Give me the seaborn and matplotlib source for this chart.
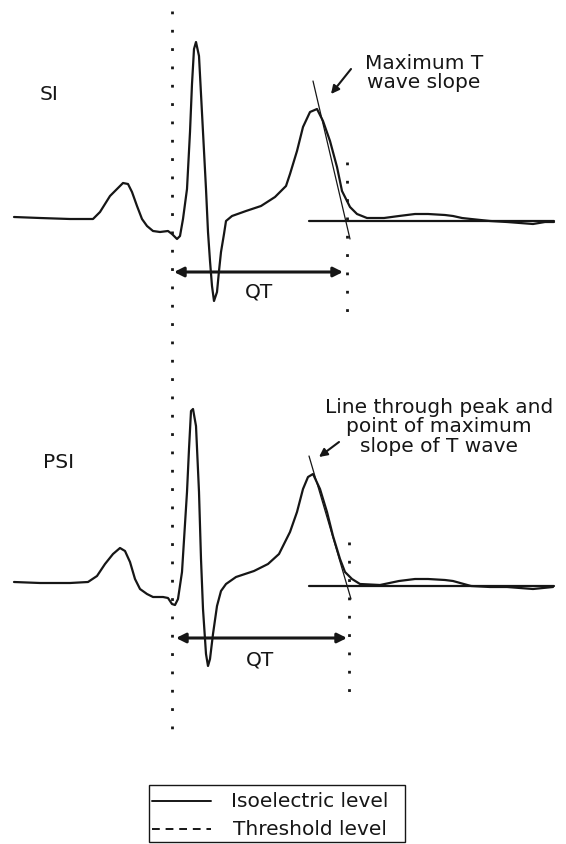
import numpy as np
import pandas as pd
import seaborn as sns
import matplotlib
matplotlib.use("Agg")
import matplotlib.pyplot as plt
from matplotlib.patches import Rectangle

# ---- data (pixel-space coordinates, y downwards) ----
si_x = [14, 40, 70, 93, 100, 105, 110, 117, 123, 128, 132, 137, 142, 147, 153, 160, 168,
        172, 177, 180, 183, 187, 190, 192, 194, 196, 199, 201, 203, 206, 208, 210, 212, 214,
        217, 219, 221, 224, 226, 232, 246, 261, 275, 286, 290, 297, 303, 310, 317, 323,
        330, 337, 342, 345, 350, 357, 367, 384, 399, 415, 428, 445, 453, 462, 471, 490,
        507, 520, 533, 545, 554]
si_y = [218, 219, 220, 220, 213, 205, 197, 190, 184, 185, 193, 207, 220, 227, 232, 233, 232,
        235, 240, 237, 220, 190, 133, 85, 50, 43, 57, 95, 133, 190, 233, 262, 287, 302,
        293, 272, 253, 235, 222, 217, 212, 207, 198, 187, 175, 152, 128, 113, 110, 122,
        142, 168, 192, 198, 208, 215, 219, 219, 217, 215, 215, 216, 217, 219, 220, 222,
        223, 224, 225, 223, 223]

psi_x = [14, 40, 70, 88, 97, 105, 113, 120, 125, 130, 135, 140, 147, 153, 163, 168,
         172, 175, 178, 182, 187, 189, 191, 193, 196, 199, 201, 203, 206, 208, 210, 213,
         217, 221, 226, 236, 254, 268, 279, 290, 297, 303, 308, 313, 320, 327, 333, 340,
         345, 352, 360, 380, 399, 415, 428, 445, 453, 471, 490, 507, 520, 533, 553]
psi_y = [583, 584, 584, 583, 577, 565, 555, 549, 552, 563, 580, 590, 595, 598, 598, 599,
         605, 606, 600, 573, 493, 450, 412, 410, 427, 493, 560, 610, 655, 667, 660, 635,
         607, 592, 585, 578, 572, 565, 555, 533, 513, 490, 478, 475, 490, 513, 537, 560,
         573, 580, 585, 586, 582, 580, 580, 581, 582, 587, 588, 588, 589, 590, 588]

iso_x = [309, 554]
iso_top_y = [221.5, 221.5]
iso_bot_y = [587, 587]

slope_top_x = [313, 350]
slope_top_y = [82, 240]
slope_bot_x = [309, 351]
slope_bot_y = [457, 600]

ink = "#161616"

sns.set_style("white")
plt.rcParams['font.family'] = ['DejaVu Sans']

fig = plt.figure(figsize=(5.66, 8.45), dpi=100)
ax = fig.add_axes([0, 0, 1, 1])
ax.set_xlim(0, 566)
ax.set_ylim(845, 0)
ax.axis("off")

si_df = pd.DataFrame({"x": si_x, "y": si_y})
psi_df = pd.DataFrame({"x": psi_x, "y": psi_y})
sns.lineplot(data=si_df, x="x", y="y", sort=False, estimator=None, ax=ax,
             color=ink, lw=1.6)
sns.lineplot(data=psi_df, x="x", y="y", sort=False, estimator=None, ax=ax,
             color=ink, lw=1.6)

# isoelectric lines
ax.plot(iso_x, iso_top_y, color=ink, lw=1.6)
ax.plot(iso_x, iso_bot_y, color=ink, lw=1.6)

# slope lines
ax.plot(slope_top_x, slope_top_y, color=ink, lw=0.9)
ax.plot(slope_bot_x, slope_bot_y, color=ink, lw=0.9)

# dotted vertical lines
dot = (0, (1, 5.6))
ax.plot([171.5, 171.5], [12, 738], color=ink, lw=2.0, ls=dot)
ax.plot([347, 347], [163, 322], color=ink, lw=2.0, ls=dot)
ax.plot([349, 349], [543, 702], color=ink, lw=2.0, ls=dot)

# QT arrows
for y, x0, x1 in [(273, 174, 343), (639, 176, 347)]:
    ax.annotate("", xy=(x0, y), xytext=(x1, y),
                arrowprops=dict(arrowstyle="<|-|>", lw=2.2, color=ink,
                                mutation_scale=14, shrinkA=0, shrinkB=0))

fs = 14.5
ax.text(259, 292, "QT", fontsize=fs, ha="center", va="center", color=ink)
ax.text(260, 660, "QT", fontsize=fs, ha="center", va="center", color=ink)
ax.text(49, 95, "SI", fontsize=fs, ha="center", va="center", color=ink)
ax.text(59, 463, "PSI", fontsize=fs, ha="center", va="center", color=ink)

ax.text(424, 73, "Maximum T\nwave slope", fontsize=fs, ha="center", va="center",
        color=ink, linespacing=1.05)
ax.annotate("", xy=(331, 95), xytext=(351, 70),
            arrowprops=dict(arrowstyle="-|>", lw=1.5, color=ink,
                            mutation_scale=12, shrinkA=0, shrinkB=0))

ax.text(439, 427, "Line through peak and\npoint of maximum\nslope of T wave",
        fontsize=fs, ha="center", va="center", color=ink, linespacing=1.05)
ax.annotate("", xy=(319, 458), xytext=(339, 443),
            arrowprops=dict(arrowstyle="-|>", lw=1.5, color=ink,
                            mutation_scale=12, shrinkA=0, shrinkB=0))

# legend box
ax.add_patch(Rectangle((149, 786), 256, 57, fill=False, lw=1.0, edgecolor=ink))
ax.plot([152, 211], [802, 802], color=ink, lw=1.4)
ax.plot([152, 211], [830, 830], color=ink, lw=1.4, ls=(0, (4, 3)))
ax.text(231, 802, "Isoelectric level", fontsize=fs, ha="left", va="center", color=ink)
ax.text(233, 830, "Threshold level", fontsize=fs, ha="left", va="center", color=ink)

fig.savefig("out.png", dpi=100)
